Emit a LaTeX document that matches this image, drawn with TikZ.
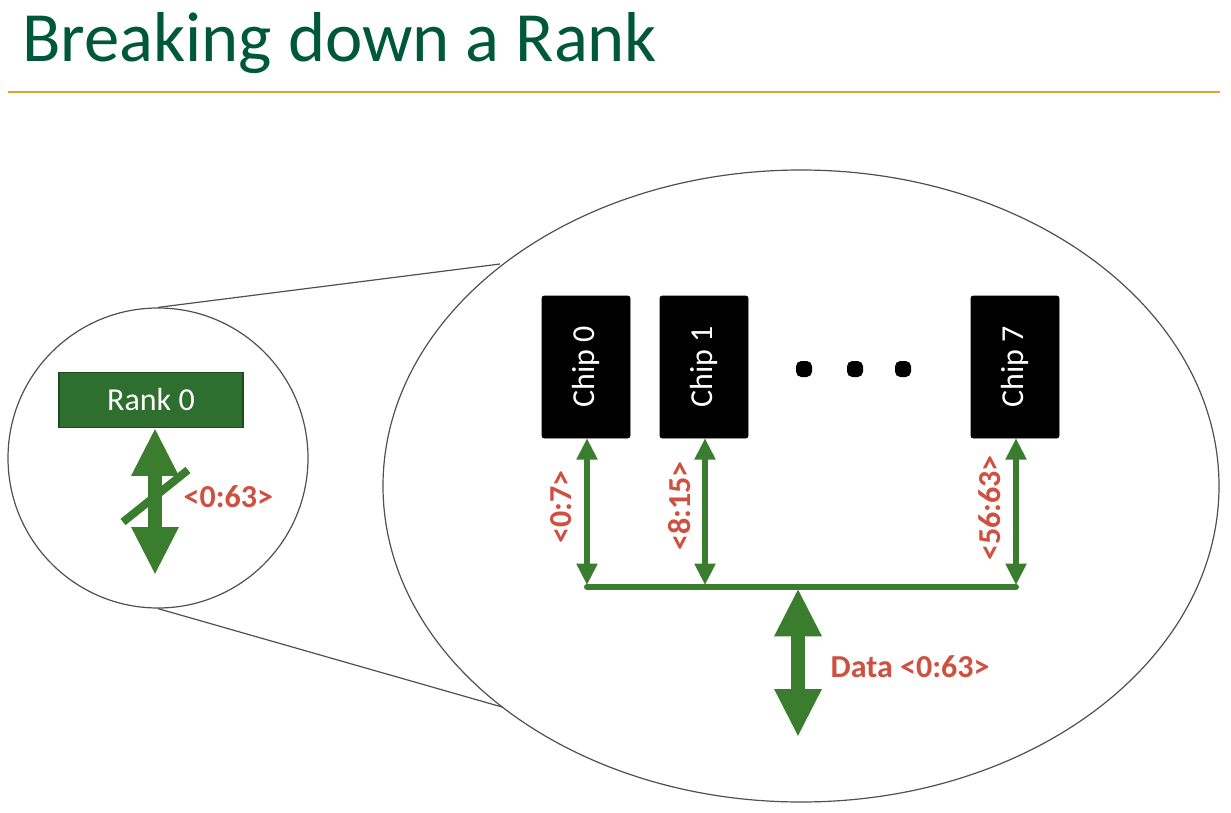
\documentclass[tikz,border=0pt]{standalone}
\usepackage{fontspec}
\setmainfont{Carlito}
\usetikzlibrary{arrows.meta,shapes.geometric}
\definecolor{titlegreen}{RGB}{0,88,58}
\definecolor{rulegold}{RGB}{224,166,40}
\definecolor{busgreen}{RGB}{58,125,46}
\definecolor{rankfill}{RGB}{46,110,46}
\definecolor{rankedge}{RGB}{30,75,30}
\definecolor{labelred}{RGB}{206,80,64}
\definecolor{outline}{RGB}{80,80,80}
\begin{document}
\begin{tikzpicture}[x=0.75pt,y=-0.75pt,
  chipbox/.style={fill=black, draw=black, rounded corners=1.5pt, minimum width=66pt, minimum height=106.5pt, inner sep=0pt},
  chiptext/.style={text=white, font=\fontsize{24}{28}\selectfont, rotate=90},
  buslabel/.style={text=labelred, font=\bfseries\fontsize{24}{28}\selectfont},
  thinbus/.style={draw=busgreen, line width=3.8pt, {Triangle[length=16pt,width=15pt]}-{Triangle[length=16pt,width=15pt]}},
  thickbus/.style={draw=busgreen, line width=11pt, {Triangle[length=36pt,width=33pt]}-{Triangle[length=36pt,width=33pt]}},
  dotmark/.style={fill=black, rounded corners=4pt, minimum size=12pt, inner sep=0pt},
  magline/.style={draw=outline, line width=0.9pt}
]
\useasboundingbox (0,0) rectangle (1231,813);
\fill[white] (0,0) rectangle (1231,813);

% heading and rule
\node[anchor=base west, inner sep=0pt, text=titlegreen, font=\fontsize{53}{60}\selectfont] (title) at (22,62) {Breaking down a Rank};
\draw[rulegold, line width=1.5pt] (8,92) -- (1220,92);

% magnifier outlines
\node[magline, circle, minimum size=225pt, inner sep=0pt] (lens) at (158,458) {};
\node[magline, ellipse, minimum width=627pt, minimum height=474pt, inner sep=0pt] (view) at (801,486) {};
\coordinate (vtop) at (500,264);
\coordinate (vbot) at (502,707);
\draw[magline] (lens.north) -- (vtop);
\draw[magline] (lens.south) -- (vbot);

% rank side
\node[fill=rankfill, draw=rankedge, line width=0.8pt, minimum width=138pt, minimum height=41pt, inner sep=0pt,
      text=white, font=\fontsize{24}{28}\selectfont] (rank) at (151,400) {Rank 0};
\coordinate (rankend) at (155,575);
\draw[thickbus] (rank.south -| rankend) -- (rankend);
\draw[busgreen, line width=6pt] (123,522) -- (188,470);
\node[buslabel, anchor=west] (ranklbl) at (179,497) {<0:63>};

% chips
\node[chipbox] (c0) at (586,367) {};
\node[chiptext] at (c0) {Chip 0};
\node[chipbox] (c1) at (704,367) {};
\node[chiptext] at (c1) {Chip 1};
\node[chipbox] (c7) at (1015,367) {};
\node[chiptext] at (c7) {Chip 7};
\node[dotmark] (d1) at (804,369) {};
\node[dotmark] (d2) at (855,369) {};
\node[dotmark] (d3) at (903,369) {};

% shared data bus
\coordinate (b0) at (587,587);
\coordinate (b1) at (705,587);
\coordinate (b7) at (1016,587);
\coordinate (bm) at (798,587);
\coordinate (dataend) at (798,737);
\draw[busgreen, line width=4.5pt, line cap=round] (b0) -- (b7);
\draw[thinbus] (c0.south -| b0) -- ([yshift=1.5pt]b0);
\draw[thinbus] (c1.south -| b1) -- ([yshift=1.5pt]b1);
\draw[thinbus] (c7.south -| b7) -- ([yshift=1.5pt]b7);
\draw[thickbus] ([yshift=-1pt]bm) -- (dataend);

% lane labels
\node[buslabel, rotate=90] (l0) at (561,507) {<0:7>};
\node[buslabel, rotate=90] (l1) at (680,506) {<8:15>};
\node[buslabel, rotate=90] (l7) at (990,508) {<56:63>};
\node[buslabel, anchor=west] (ldata) at (826,667) {Data <0:63>};
\end{tikzpicture}
\end{document}
